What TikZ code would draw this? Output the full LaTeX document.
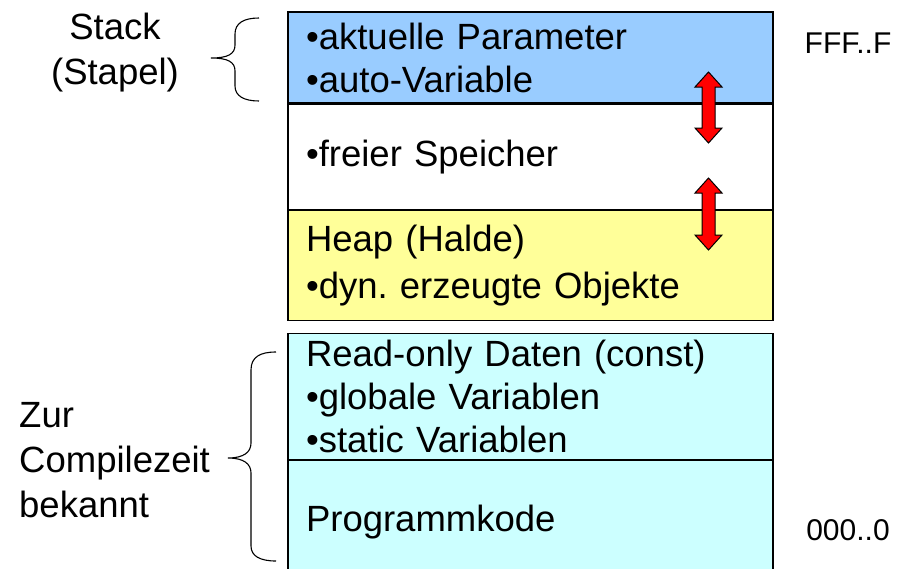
\documentclass[tikz,border=0pt]{standalone}
\usepackage{fontspec}
\setmainfont{Liberation Sans}
\usetikzlibrary{positioning}
\definecolor{cstack}{HTML}{99CCFF}
\definecolor{cheap}{HTML}{FFFF99}
\definecolor{cstatic}{HTML}{CCFFFF}
\definecolor{cgrow}{HTML}{FF0000}
\tikzset{
  seg/.style={draw=black, line width=1.2pt, text width=449pt, align=left,
              inner xsep=18pt, inner ysep=0pt, font=\fontsize{36.5}{43}\selectfont},
  side/.style={inner sep=0pt, font=\fontsize{36.5}{45}\selectfont},
  addr/.style={inner sep=0pt, font=\fontsize{30}{35}\selectfont},
  curly/.style={draw=black, line width=1.1pt},
  growarrow/.style={fill=cgrow, draw=black, line width=1pt, line join=miter},
}
\frenchspacing

\begin{document}
\begin{tikzpicture}[x=1pt, y=-1pt, node distance=0pt]
  \useasboundingbox (0,0) rectangle (917,568);
  % memory segments, top (high addresses) to bottom
  \node[seg, fill=cstack, minimum height=91pt] (stack) at (530.5,57.5)
    {•aktuelle Parameter\\•auto-Variable};
  \node[seg, fill=white, minimum height=105pt, below=of stack] (free)
    {•freier Speicher};
  \node[seg, fill=cheap, minimum height=110pt, below=of free] (heap)
    {Heap (Halde)\\[4pt]•dyn. erzeugte Objekte};
  \node[seg, fill=cstatic, minimum height=126pt, below=12pt of heap] (rodata)
    {Read-only Daten (const)\\•globale Variablen\\•static Variablen};
  \node[seg, fill=cstatic, minimum height=122pt, below=of rodata] (code)
    {Programmkode};
  % labels left and right
  \node[side, align=center] (stacklbl) at (115,53) {Stack\\(Stapel)};
  \node[side, align=left, anchor=west] (ctlbl) at (19,460) {Zur\\Compilezeit\\bekannt};
  \node[addr] (top) at (848,43) {FFF..F};
  \node[addr] (bot) at (848,530) {000..0};
  % braces
  \draw[curly] (259,18) .. controls (244,18) and (235,23) .. (235,34) -- (235,45)
    .. controls (235,54) and (228,58) .. (211,58)
    .. controls (228,58) and (235,62) .. (235,71) -- (235,86)
    .. controls (235,96) and (244,101) .. (259,101);
  \draw[curly] (276,352) .. controls (260,352) and (251,357) .. (251,370) -- (251,443)
    .. controls (251,452) and (244,458) .. (228,458)
    .. controls (244,458) and (251,464) .. (251,473) -- (251,546)
    .. controls (251,556) and (260,561) .. (276,561);
  % stack and heap grow towards each other
  \foreach \t/\b in {72/143,178/250}{
    \pgfmathsetmacro\len{\b-\t-30}
    \draw[growarrow] (708.5,\t) -- ++(13.5,15) -- ++(-7,0) -- ++(0,\len) -- ++(7,0)
      -- (708.5,\b) -- ++(-13.5,-15) -- ++(7,0) -- ++(0,-\len) -- ++(-7,0) -- cycle;
  }
\end{tikzpicture}
\end{document}
